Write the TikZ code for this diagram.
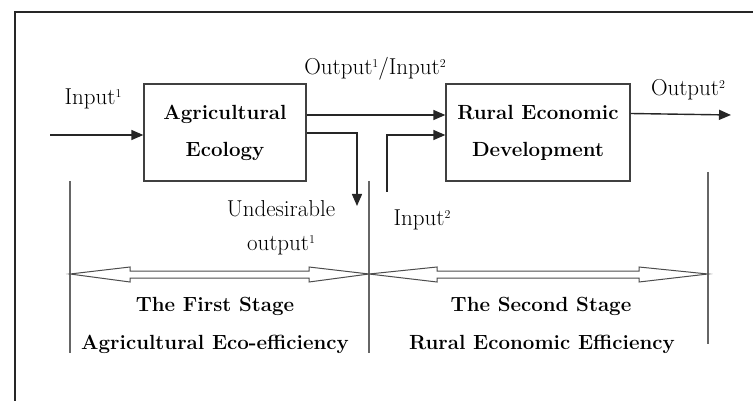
\documentclass[tikz,border=0pt]{standalone}
\usetikzlibrary{arrows.meta}
\newcommand{\mysup}[1]{\raisebox{0.75ex}{\fontsize{12}{12}\selectfont #1}}
\begin{document}
\begin{tikzpicture}[x=1pt,y=-1pt,
  box/.style={draw=black!75, line width=1.3pt, inner sep=0pt, align=center,
    font=\fontsize{20.5}{37}\selectfont\bfseries},
  arr/.style={line width=1.4pt, draw=black!85, -{Triangle[length=12pt,width=10pt]}},
  lab/.style={inner sep=0pt, font=\fontsize{23}{24}\selectfont},
  blab/.style={inner sep=0pt, font=\fontsize{20.5}{24}\selectfont\bfseries},
  vline/.style={draw=black!60, line width=1.3pt},
  dbl/.style={draw=black!70, line width=1pt, fill=white, line join=miter}]
\useasboundingbox (0,0) rectangle (753,401);
% frame
\coordinate (fa) at (15,401);
\coordinate (fb) at (15,12);
\coordinate (fc) at (753,12);
\draw[black!85, line width=1.2pt] (fa) -- (fb) -- (fc);
% boxes
\node[box, minimum width=162pt, minimum height=97pt] (b1) at (225,132.5) {Agricultural\\Ecology};
\node[box, minimum width=184pt, minimum height=97pt] (b2) at (538,132.5) {Rural Economic\\Development};
% connectors
\coordinate (in1) at (50,135);
\draw[arr] (in1) -- (in1 -| b1.west);
\draw[arr] ([yshift=17.5pt]b1.east) -- ([yshift=17.5pt]b2.west);
\coordinate (ud) at (357,206);
\draw[arr] ([yshift=-0.5pt]b1.east) -| (ud);
\coordinate (in2) at (387,192);
\draw[arr] (in2) |- ([yshift=-2.5pt]b2.west);
\coordinate (out2) at (731,115);
\draw[arr] ([yshift=19pt]b2.east) -- (out2);
% labels
\node[lab] (l1) at (93,99) {Input\mysup{1}};
\node[lab] (l2) at (375,69) {Output\mysup{1}/Input\mysup{2}};
\node[lab] (l3) at (688,90) {Output\mysup{2}};
\node[lab] (l4) at (281,209) {Undesirable};
\node[lab] (l5) at (281,245) {output\mysup{1}};
\node[lab] (l6) at (422,220) {Input\mysup{2}};
% vertical lines
\coordinate (v1t) at (70,181); \coordinate (v1b) at (70,353);
\coordinate (v2t) at (369,181); \coordinate (v2b) at (369,353);
\coordinate (v3t) at (708,172); \coordinate (v3b) at (708,344);
\draw[vline] (v1t) -- (v1b);
\draw[vline] (v2t) -- (v2b);
\draw[vline] (v3t) -- (v3b);
% double arrows
\draw[dbl] (70,274) -- (130,267) -- (130,271) -- (309,271) -- (309,267) -- (369,274)
  -- (309,282) -- (309,278) -- (130,278) -- (130,282) -- cycle;
\draw[dbl] (369,274) -- (437,267) -- (437,271) -- (639,271) -- (639,267) -- (708,274)
  -- (639,282) -- (639,278) -- (437,278) -- (437,282) -- cycle;
% stage labels
\node[blab] (s1) at (215,306) {The First Stage};
\node[blab] (s2) at (215,344) {Agricultural Eco-efficiency};
\node[blab] (s3) at (541,306) {The Second Stage};
\node[blab] (s4) at (542,344) {Rural Economic Efficiency};
\end{tikzpicture}
\end{document}
